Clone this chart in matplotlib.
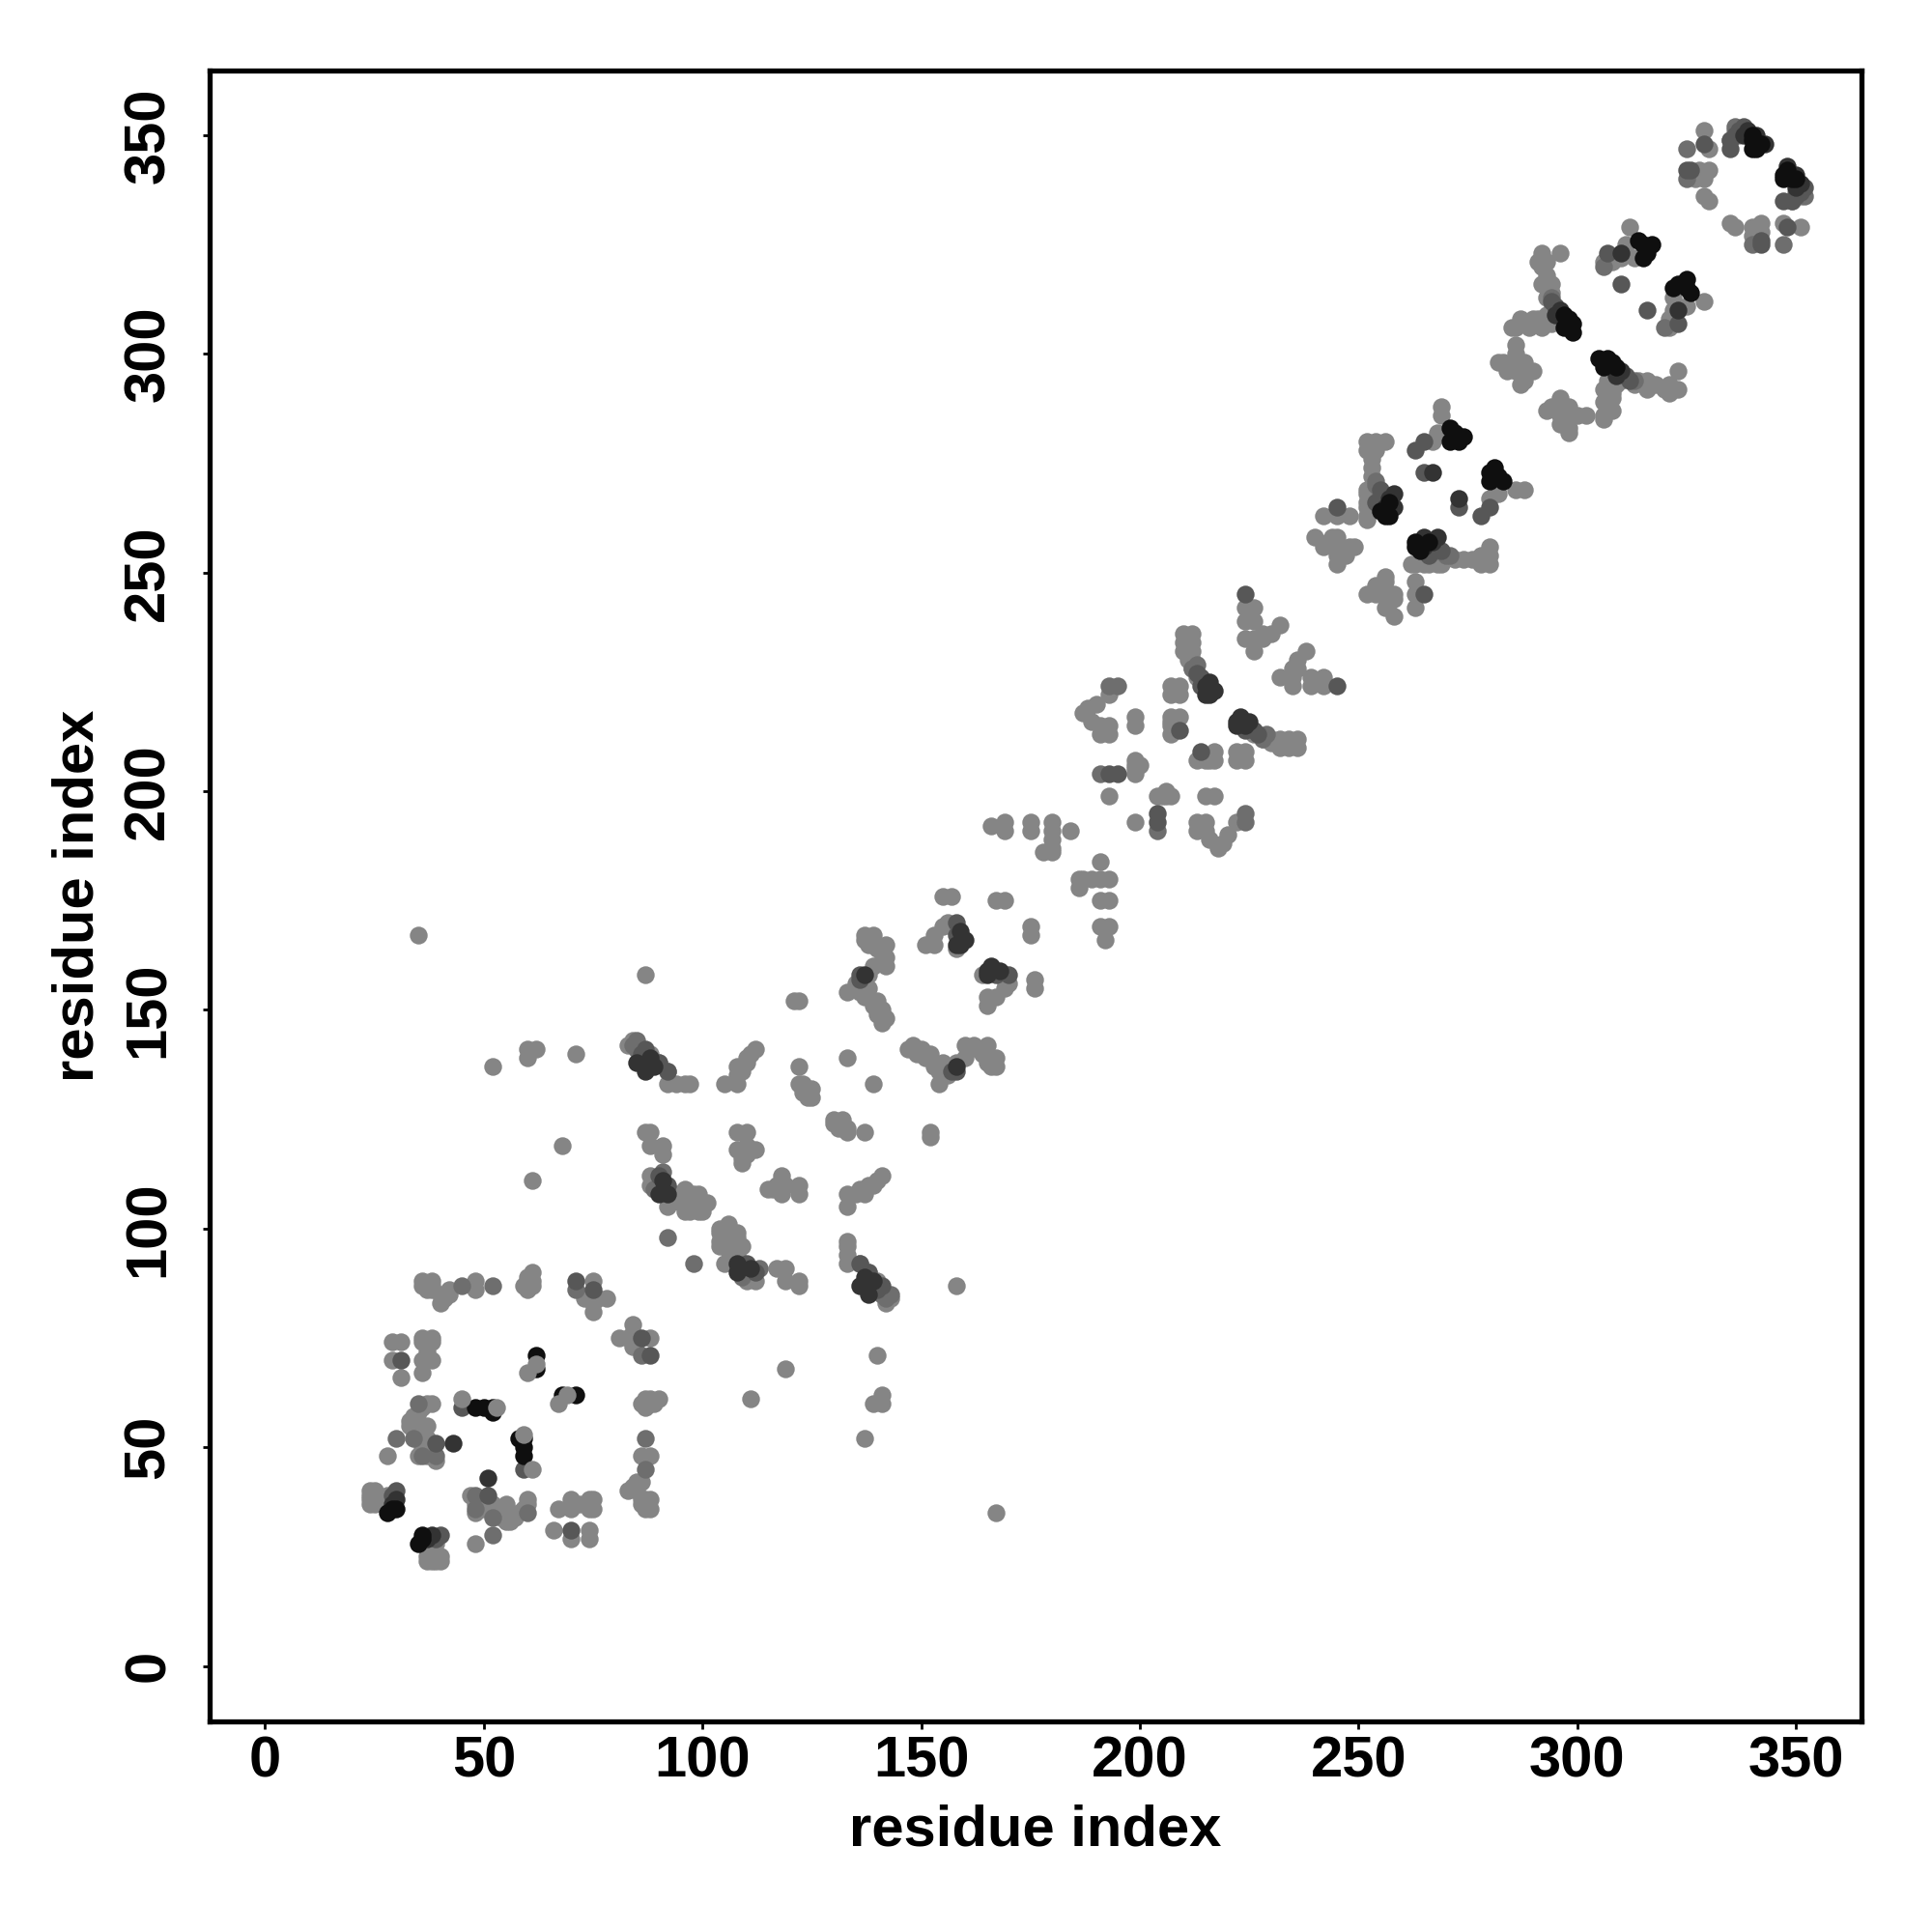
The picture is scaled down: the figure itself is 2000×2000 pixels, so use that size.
import matplotlib
matplotlib.use('Agg')
import matplotlib.pyplot as plt
import numpy as np

# contacts below the diagonal, grouped by shade; the map is symmetric so they get mirrored
black_x = [35, 36, 36, 71, 68, 59, 59, 58, 59, 263, 266, 264, 263,
           280, 280, 283, 281, 282, 307, 305, 309, 306, 308, 326, 323, 325, 325, 322, 324, 349, 348, 347, 350, 347]
black_y = [28, 29, 30, 62, 62, 48, 50, 52, 52, 257, 257, 255, 256,
           271, 273, 271, 274, 272, 299, 299, 297, 297, 298, 314, 316, 315, 317, 315, 316, 340, 342, 340, 340, 341]

dark_x = [37, 38, 51, 139, 138, 137, 111, 108, 108, 136, 165, 166, 165, 168, 222, 223, 222, 225, 224, 273, 323,
          267, 268, 265, 265, 310, 309, 348, 350, 351, 350, 158]
dark_y = [29, 30, 43, 88, 85, 89, 91, 92, 90, 87, 158, 160, 159, 159, 215, 217, 216, 216, 215, 267, 310,
          257, 258, 256, 258, 296, 295, 343, 341, 339, 338, 137]

dim_x = [316, 323, 342, 348, 350, 347, 70, 86, 59, 88, 265, 245, 273, 204, 204, 214, 280, 278, 226, 224,
         266, 269, 167, 170, 157, 158, 349, 342, 140, 141, 138, 110, 112, 227, 311, 312, 351, 352, 39, 40,
         136, 138, 51]
dim_y = [310, 307, 325, 329, 336, 335, 31, 75, 45, 71, 245, 224, 265, 195, 193, 209, 265, 263, 214, 214,
         254, 255, 158, 158, 136, 136, 335, 326, 86, 87, 90, 92, 90, 213, 295, 294, 337, 338, 29, 30,
         92, 89, 39]

mid_x = [52, 48, 87, 98, 224, 224, 204, 87, 86, 347, 340, 306, 271, 142, 141, 143, 228, 229, 268, 270, 313, 352,
         113, 110, 109, 60, 52, 48]
mid_y = [30, 39, 52, 92, 195, 193, 191, 45, 71, 325, 325, 320, 254, 84, 85, 85, 212, 213, 255, 254, 294, 336,
         91, 91, 89, 35, 34, 36]

light_x = [37, 38, 39, 40, 37, 40, 38, 39, 48, 48, 47, 50, 51, 52, 52, 55, 56, 58, 60, 60, 54, 57, 59, 55, 53, 48,
           67, 70, 70, 74, 75, 66, 70, 74, 74, 72, 74, 75,
           86, 88, 85, 83, 85, 86, 87, 88, 87, 86, 88, 84, 86,
           86, 88, 90, 87, 88, 89, 87,
           84, 81, 88, 84, 83, 85, 84,
           137, 139, 141, 141, 140, 119, 111, 167, 158,
           133, 136, 138, 140, 142, 142, 140, 133, 133, 133, 141, 143,
           122, 119, 122, 119, 117,
           106, 108, 104, 105, 106, 108, 112, 110, 107, 109, 105, 105, 110, 106, 104, 108, 106, 104, 104,
           141, 138, 137, 133, 133, 140, 139, 136, 135,
           152, 152, 137, 130, 132, 133, 133, 131, 132, 130,
           118, 115, 122, 122, 119, 118, 118, 116, 117,
           139, 154, 147, 152, 148, 150, 155, 156, 153, 158, 160, 160, 165, 167, 166, 167, 163, 165, 149, 151, 154, 162, 164,
           165, 165, 167, 170, 169, 169, 176, 176, 175, 175, 164,
           192, 193, 191, 193, 191, 193, 191, 189, 186, 186, 187, 191,
           199, 206, 205, 206, 204, 207, 215, 217,
           213, 213, 215, 215, 216, 218, 220, 222, 219,
           222, 224, 222, 224, 217, 217, 215, 213, 216,
           236, 234, 232, 230, 228, 236, 234, 232, 230, 226,
           242, 242, 239, 239, 235, 235, 232, 236, 238, 236, 235,
           252, 256, 254, 258, 258, 256, 263, 263, 263, 255, 257, 256, 258, 254, 256,
           263, 262, 265, 268, 274, 278, 278, 280, 280, 280, 276, 272, 266, 269, 268,
           280, 282, 286, 288,
           302, 300, 298, 298, 296, 293, 296, 296, 298, 297, 294, 296, 297, 298, 296,
           308, 306, 306, 306, 306, 307, 308, 307, 310, 311, 314, 316, 316, 318, 321, 321, 323, 323, 313, 309, 308, 320,
           329, 325, 323, 321, 321, 322, 322,
           351, 347, 342, 340, 336, 335, 342, 340, 351, 349, 350]
light_y = [24, 24, 24, 24, 25, 25, 28, 28, 28, 35, 39, 36, 37, 35, 37, 37, 33, 35, 38, 37, 34, 34, 36, 33, 36, 37,
           36, 38, 36, 36, 38, 31, 29, 31, 29, 37, 38, 36,
           48, 48, 42, 40, 40, 38, 38, 36, 36, 37, 38, 41, 42,
           60, 61, 61, 59, 60, 60, 61,
           78, 75, 75, 73, 75, 74, 76,
           52, 60, 60, 62, 71, 68, 61, 35, 87,
           92, 92, 90, 88, 85, 83, 86, 97, 96, 94, 85, 84,
           87, 88, 88, 91, 91,
           100, 98, 96, 92, 95, 94, 88, 88, 97, 96, 98, 99, 90, 101, 100, 99, 98, 97, 99,
           112, 110, 108, 108, 105, 111, 110, 109, 108,
           122, 121, 122, 124, 125, 123, 122, 123, 124, 125,
           112, 109, 110, 108, 110, 110, 108, 109, 110,
           133, 133, 141, 140, 142, 141, 138, 135, 137, 138, 139, 142, 142, 137, 137, 139, 141, 138, 140, 139, 136, 142, 140,
           153, 151, 153, 156, 155, 157, 157, 155, 167, 169, 158,
           166, 169, 169, 175, 175, 180, 180, 180, 178, 180, 180, 184,
           193, 199, 199, 200, 199, 199, 199, 199,
           191, 193, 191, 193, 189, 187, 190, 193, 188,
           209, 209, 207, 207, 207, 209, 207, 207, 207,
           212, 212, 212, 212, 212, 210, 210, 210, 211, 213,
           224, 226, 224, 226, 224, 226, 226, 230, 232, 228, 228,
           245, 249, 247, 245, 240, 242, 248, 245, 242, 246, 243, 248, 244, 245, 246,
           252, 252, 252, 255, 253, 252, 254, 252, 254, 256, 253, 253, 252, 252, 252,
           267, 268, 269, 269,
           286, 286, 288, 285, 290, 287, 287, 284, 283, 284, 288, 289, 287, 282, 286,
           287, 285, 286, 289, 292, 290, 290, 294, 294, 295, 294, 294, 292, 293, 291, 293, 292, 296, 293, 293, 291, 292,
           312, 311, 311, 306, 308, 310, 313,
           329, 330, 328, 329, 329, 330, 330, 327, 336, 335, 337]

# the few pale dots that lie over the black ones
top_x = [61, 59, 69, 67]
top_y = [45, 53, 62, 60]

tick_vals = [0, 50, 100, 150, 200, 250, 300, 350]


def mirrored(x, y):
    return np.concatenate([x, y]), np.concatenate([y, x])


plt.rcParams['font.family'] = ['Liberation Sans', 'DejaVu Sans']
fig = plt.figure(figsize=(10, 10), dpi=200)
ax = fig.add_axes([217 / 2000, 1 - 1782 / 2000, 1710 / 2000, 1709 / 2000])

shades = [(light_x, light_y, 0.52), (mid_x, mid_y, 0.43), (dim_x, dim_y, 0.34),
          (dark_x, dark_y, 0.2), (black_x, black_y, 0.06), (top_x, top_y, 0.52)]
for xs, ys, g in shades:
    mx, my = mirrored(xs, ys)
    ax.scatter(mx, my, s=44, color=str(g), linewidths=0, zorder=2)

ax.set_xlim(-12.7, 365)
ax.set_ylim(-12.7, 364.8)
ax.set_xticks(tick_vals)
ax.set_yticks(tick_vals)
ax.tick_params(axis='both', length=2.7, width=1.0, labelsize=21.5)
ax.tick_params(axis='x', pad=2.4)
ax.tick_params(axis='y', pad=10)
for lab in ax.get_xticklabels():
    lab.set_fontweight('bold')
for lab in ax.get_yticklabels():
    lab.set_fontweight('bold')
    lab.set_rotation(90)
    lab.set_va('center')
for sp in ax.spines.values():
    sp.set_linewidth(1.9)
ax.set_xlabel('residue index', fontsize=21.5, fontweight='bold', labelpad=6)
ax.set_ylabel('residue index', fontsize=21.5, fontweight='bold', labelpad=6.5)

fig.savefig('out.png', dpi=200)
